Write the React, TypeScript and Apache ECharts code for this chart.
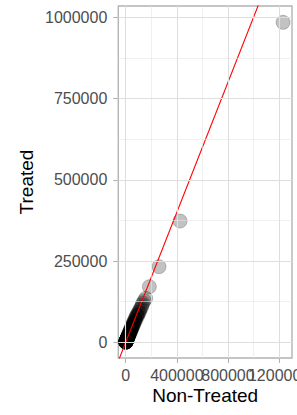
import React, { useEffect, useRef } from "react";
import * as echarts from "echarts";

const xTicks = [0, 400000, 800000, 1200000];
const xMinor = [200000, 600000, 1000000];
const yTicks = [0, 250000, 500000, 750000, 1000000];
const yMinor = [125000, 375000, 625000, 875000];

// [Non-Treated, Treated]
const points: number[][] = [
  [100, 200], [200, 100], [300, 400], [500, 800], [600, 500], [800, 600], [900, 1100],
  [1100, 1400], [1200, 1000], [1400, 1100], [1500, 1700], [1800, 1400], [2000, 1900],
  [2200, 2500], [2400, 2600], [2600, 2100], [2800, 2400], [3000, 3300], [3200, 3600],
  [3400, 2800], [3900, 4200], [4000, 3500], [4400, 3700], [4700, 5100], [5000, 5600],
  [5300, 4600], [5600, 4700], [6000, 6300], [6300, 6900], [6700, 5800], [7000, 5900],
  [7500, 7900], [7800, 8400], [8200, 7600], [8600, 7300], [9000, 9400], [9500, 10200],
  [10000, 9200], [10400, 8800], [11000, 11500], [11400, 12300], [12000, 11000],
  [12500, 10500], [13200, 13600], [13700, 14600], [14500, 13400], [15000, 12700],
  [16000, 16300], [16400, 17500], [17500, 16400], [17900, 15200], [19000, 19400],
  [19500, 20800], [21000, 19800], [21200, 18100], [23000, 24300], [23500, 23000],
  [24900, 21300], [26000, 24800], [27000, 28400], [28500, 28000], [29200, 25000],
  [31000, 29900], [31500, 32700], [34000, 29200], [34500, 34000], [36600, 37800],
  [38000, 36500], [39400, 34000], [41500, 40800], [42300, 43500], [45400, 39300],
  [46000, 44000], [48700, 49700], [51000, 49000], [52200, 45600], [56000, 56900],
  [57000, 54000], [60000, 52800], [63000, 59500], [64500, 64800], [69300, 61000],
  [71000, 67000], [74500, 73500], [79000, 75000], [80000, 69500], [86000, 82400],
  [88000, 84000], [92500, 80100], [97000, 86000], [99500, 93000], [107000, 92400],
  [110000, 99000], [115000, 104000], [124000, 108000], [128000, 115000],
  [134000, 121000], [145000, 128000], [156500, 135400], [184700, 171100],
  [260600, 232600], [425000, 373200], [1231000, 984600],
];

const refLine: number[][] = [
  [-200000, -200000],
  [1500000, 1500000],
];

const X_MIN = -58000;
const X_MAX = 1301000;
const Y_MIN = -48300;
const Y_MAX = 1034800;

// x labels split over two stacked bottom axes so that overlapping labels all stay visible
const xLabelsA = [xTicks[0], xTicks[1], xTicks[3]];
const xLabelsB = [xTicks[2]];

export default function App() {
  const ref = useRef<HTMLDivElement>(null);
  useEffect(() => {
    if (!ref.current) return;
    const chart = echarts.init(ref.current, undefined, { renderer: "svg" });
    const font = "'Liberation Sans', Arial, sans-serif";
    const gridLine = (color: string, width: number) => ({
      color,
      width,
      type: "solid" as const,
    });
    const markData: any[] = [];
    xMinor.forEach((v) => markData.push({ xAxis: v, lineStyle: gridLine("#E6E6E6", 0.6) }));
    yMinor.forEach((v) => markData.push({ yAxis: v, lineStyle: gridLine("#E6E6E6", 0.6) }));
    xTicks.forEach((v) => markData.push({ xAxis: v, lineStyle: gridLine("#DEDEDE", 1.1) }));
    yTicks.forEach((v) => markData.push({ yAxis: v, lineStyle: gridLine("#DEDEDE", 1.1) }));

    const plain = (v: number) => String(Math.round(v));
    const labelStyle = {
      formatter: plain,
      margin: 9,
      fontFamily: font,
      fontSize: 16,
      color: "#4D4D4D",
      hideOverlap: false,
    };
    const tickStyle = {
      show: true,
      length: 5,
      lineStyle: { color: "#B3B3B3", width: 1.1 },
    };

    chart.setOption({
      animation: false,
      grid: {
        left: 118.3,
        right: 5,
        top: 6,
        bottom: 57,
        show: true,
        borderColor: "#B3B3B3",
        borderWidth: 1.4,
        backgroundColor: "transparent",
        containLabel: false,
        outerBoundsMode: "none",
      },
      xAxis: [
        {
          type: "value",
          position: "bottom",
          min: X_MIN,
          max: X_MAX,
          name: "Non-Treated",
          nameLocation: "middle",
          nameGap: 28,
          nameMoveOverlap: false,
          nameTextStyle: { fontFamily: font, fontSize: 19, color: "#000" },
          axisLine: { show: false, onZero: false },
          axisTick: { ...tickStyle, customValues: xTicks },
          axisLabel: { ...labelStyle, customValues: xLabelsA },
          splitLine: { show: false },
        },
        {
          type: "value",
          position: "bottom",
          offset: 0,
          min: X_MIN,
          max: X_MAX,
          axisLine: { show: false, onZero: false },
          axisTick: { show: false, customValues: xLabelsB },
          axisLabel: { ...labelStyle, customValues: xLabelsB },
          splitLine: { show: false },
        },
      ],
      yAxis: {
        type: "value",
        min: Y_MIN,
        max: Y_MAX,
        name: "Treated",
        nameLocation: "middle",
        nameGap: 82,
        nameMoveOverlap: false,
        nameTextStyle: { fontFamily: font, fontSize: 19, color: "#000" },
        axisLine: { show: false, onZero: false },
        axisTick: { ...tickStyle, customValues: yTicks },
        axisLabel: {
          ...labelStyle,
          customValues: yTicks,
          margin: 11,
        },
        splitLine: { show: false },
      },
      series: [
        {
          type: "line",
          z: 1,
          data: [[X_MIN, Y_MIN]],
          symbol: "none",
          lineStyle: { opacity: 0 },
          silent: true,
          markLine: {
            silent: true,
            symbol: ["none", "none"],
            label: { show: false },
            animation: false,
            data: markData,
          },
        },
        {
          type: "scatter",
          z: 2,
          data: points,
          symbol: "circle",
          symbolSize: 14,
          itemStyle: {
            color: "rgba(0,0,0,0.3)",
            borderColor: "rgba(0,0,0,0.3)",
            borderWidth: 0.9,
          },
          silent: true,
        },
        {
          type: "line",
          z: 3,
          data: refLine,
          symbol: "none",
          clip: true,
          lineStyle: { color: "#FF0000", width: 1.1 },
          silent: true,
        },
      ],
    });
    return () => chart.dispose();
  }, []);
  return (
    <div
      ref={ref}
      style={{ position: "fixed", left: 0, top: 0, width: 297, height: 415, background: "#fff" }}
    />
  );
}
